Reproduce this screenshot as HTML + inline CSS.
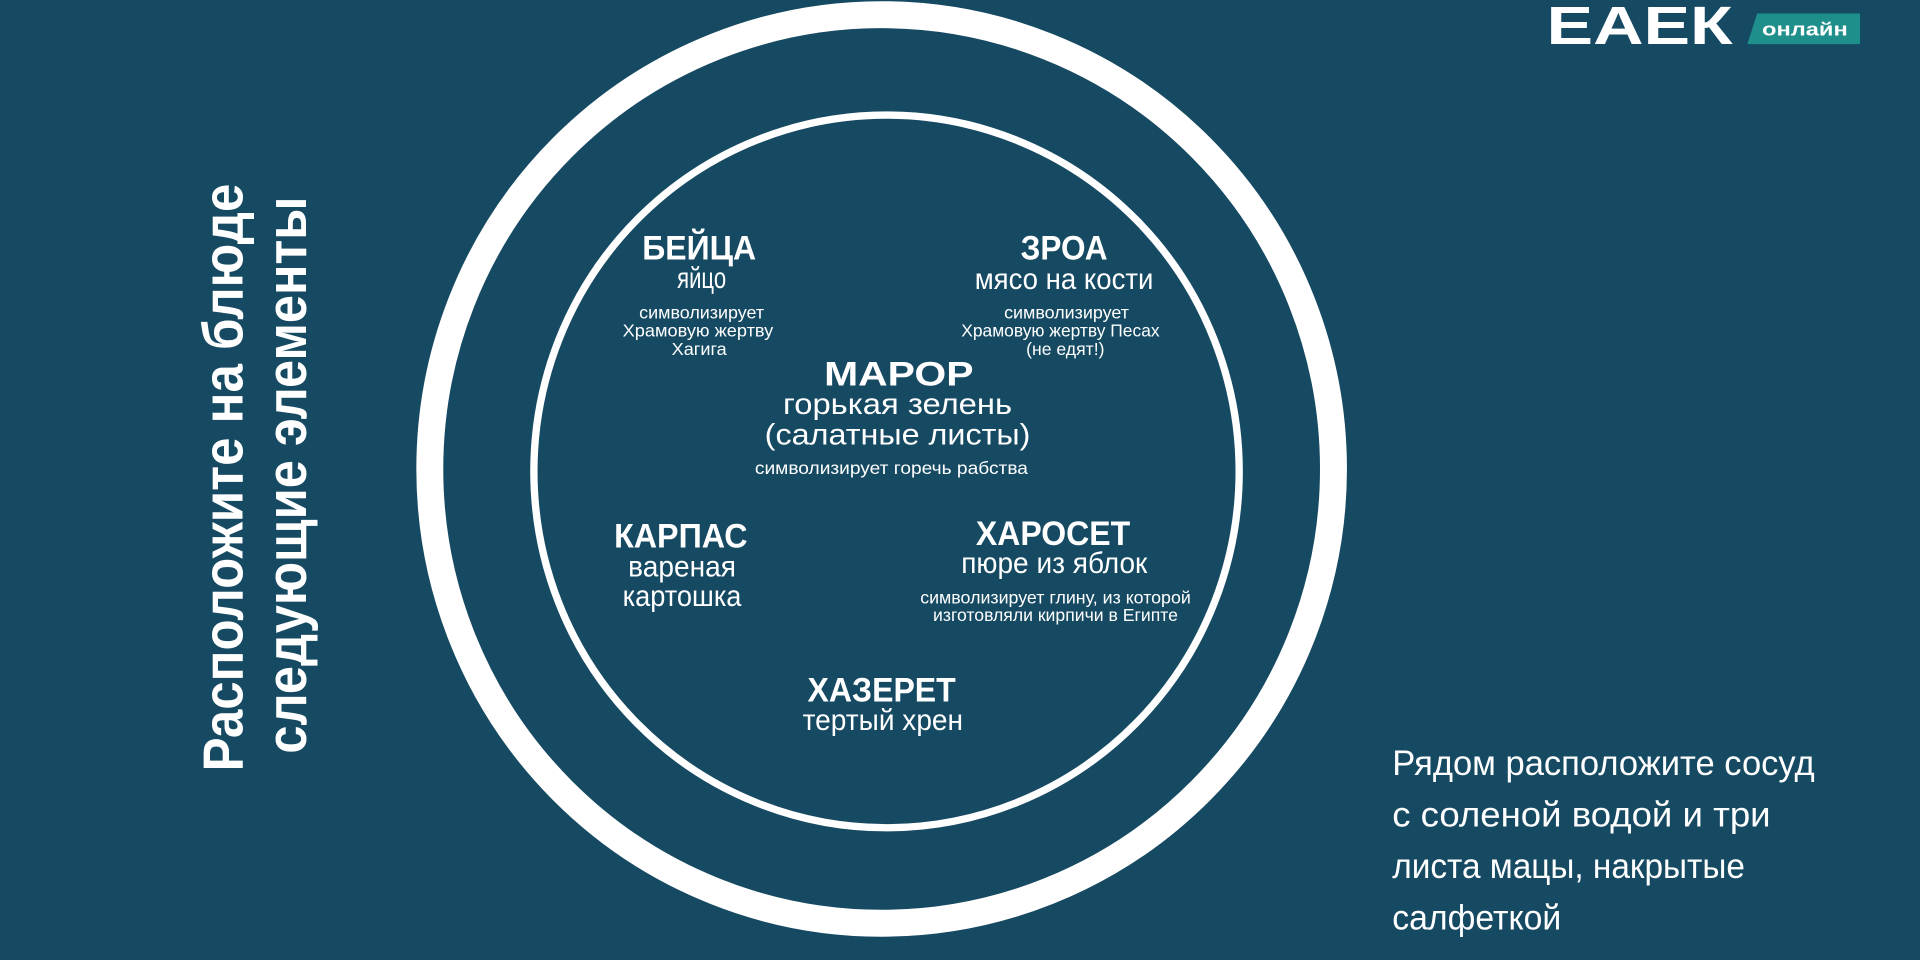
<!DOCTYPE html>
<html><head><meta charset="utf-8"><style>
html,body{margin:0;padding:0;width:1920px;height:960px;overflow:hidden;background:#164a63;}
svg{display:block}
text{font-family:"Liberation Sans",sans-serif;fill:#fff}
.b{font-weight:bold}
</style></head><body>
<svg width="1920" height="960" viewBox="0 0 1568 784" preserveAspectRatio="none" xmlns="http://www.w3.org/2000/svg">
<rect width="1568" height="784" fill="#164a63"/>
<ellipse cx="720" cy="383" rx="369" ry="371" fill="none" stroke="#fff" stroke-width="22"/>
<ellipse cx="724" cy="385" rx="288" ry="291" fill="none" stroke="#fff" stroke-width="6"/>

<!-- logo -->
<text x="1263" y="36" class="b" font-size="44" textLength="152" lengthAdjust="spacingAndGlyphs">ЕАЕК</text>
<polygon points="1435,11 1519,11 1519,36 1427,36" fill="#1f8f8c"/>
<text x="1474" y="29" class="b" font-size="15" text-anchor="middle" textLength="70" lengthAdjust="spacingAndGlyphs">онлайн</text>

<!-- vertical text -->
<g transform="translate(198,390) rotate(-90)">
<text x="0" y="0" class="b" font-size="46" text-anchor="middle" textLength="480" lengthAdjust="spacingAndGlyphs">Расположите на блюде</text>
</g>
<g transform="translate(250,388) rotate(-90)">
<text x="0" y="0" class="b" font-size="46" text-anchor="middle" textLength="455" lengthAdjust="spacingAndGlyphs">следующие элементы</text>
</g>

<g text-anchor="middle">
<text x="571" y="212" class="b" font-size="28" textLength="93" lengthAdjust="spacingAndGlyphs">БЕЙЦА</text>
<text x="573" y="235" font-size="24" textLength="40" lengthAdjust="spacingAndGlyphs">яйцо</text>
<text x="573" y="260" font-size="14" textLength="102" lengthAdjust="spacingAndGlyphs">символизирует</text>
<text x="570" y="275" font-size="14" textLength="123" lengthAdjust="spacingAndGlyphs">Храмовую жертву</text>
<text x="571" y="290" font-size="14" textLength="45" lengthAdjust="spacingAndGlyphs">Хагига</text>

<text x="869" y="212" class="b" font-size="28" textLength="71" lengthAdjust="spacingAndGlyphs">ЗРОА</text>
<text x="869" y="236" font-size="24" textLength="146" lengthAdjust="spacingAndGlyphs">мясо на кости</text>
<text x="871" y="260" font-size="14" textLength="102" lengthAdjust="spacingAndGlyphs">символизирует</text>
<text x="866" y="275" font-size="14" textLength="162" lengthAdjust="spacingAndGlyphs">Храмовую жертву Песах</text>
<text x="870" y="290" font-size="14" textLength="64" lengthAdjust="spacingAndGlyphs">(не едят!)</text>

<text x="734" y="315" class="b" font-size="28" textLength="122" lengthAdjust="spacingAndGlyphs">МАРОР</text>
<text x="733" y="338" font-size="24" textLength="187" lengthAdjust="spacingAndGlyphs">горькая зелень</text>
<text x="733" y="363" font-size="24" textLength="217" lengthAdjust="spacingAndGlyphs">(салатные листы)</text>
<text x="728" y="387" font-size="14" textLength="223" lengthAdjust="spacingAndGlyphs">символизирует горечь рабства</text>

<text x="556" y="447" class="b" font-size="28" textLength="109" lengthAdjust="spacingAndGlyphs">КАРПАС</text>
<text x="557" y="471" font-size="24" textLength="88" lengthAdjust="spacingAndGlyphs">вареная</text>
<text x="557" y="495" font-size="24" textLength="97" lengthAdjust="spacingAndGlyphs">картошка</text>

<text x="860" y="445" class="b" font-size="28" textLength="126" lengthAdjust="spacingAndGlyphs">ХАРОСЕТ</text>
<text x="861" y="468" font-size="24" textLength="152" lengthAdjust="spacingAndGlyphs">пюре из яблок</text>
<text x="862" y="493" font-size="14" textLength="221" lengthAdjust="spacingAndGlyphs">символизирует глину, из которой</text>
<text x="862" y="507" font-size="14" textLength="200" lengthAdjust="spacingAndGlyphs">изготовляли кирпичи в Египте</text>

<text x="720" y="573" class="b" font-size="28" textLength="121" lengthAdjust="spacingAndGlyphs">ХАЗЕРЕТ</text>
<text x="721" y="596" font-size="24" textLength="131" lengthAdjust="spacingAndGlyphs">тертый хрен</text>
</g>

<g font-size="29">
<text x="1137" y="633" textLength="345" lengthAdjust="spacingAndGlyphs">Рядом расположите сосуд</text>
<text x="1137" y="675" textLength="309" lengthAdjust="spacingAndGlyphs">с соленой водой и три</text>
<text x="1137" y="717" textLength="288" lengthAdjust="spacingAndGlyphs">листа мацы, накрытые</text>
<text x="1137" y="759" textLength="138" lengthAdjust="spacingAndGlyphs">салфеткой</text>
</g>
</svg>
</body></html>
